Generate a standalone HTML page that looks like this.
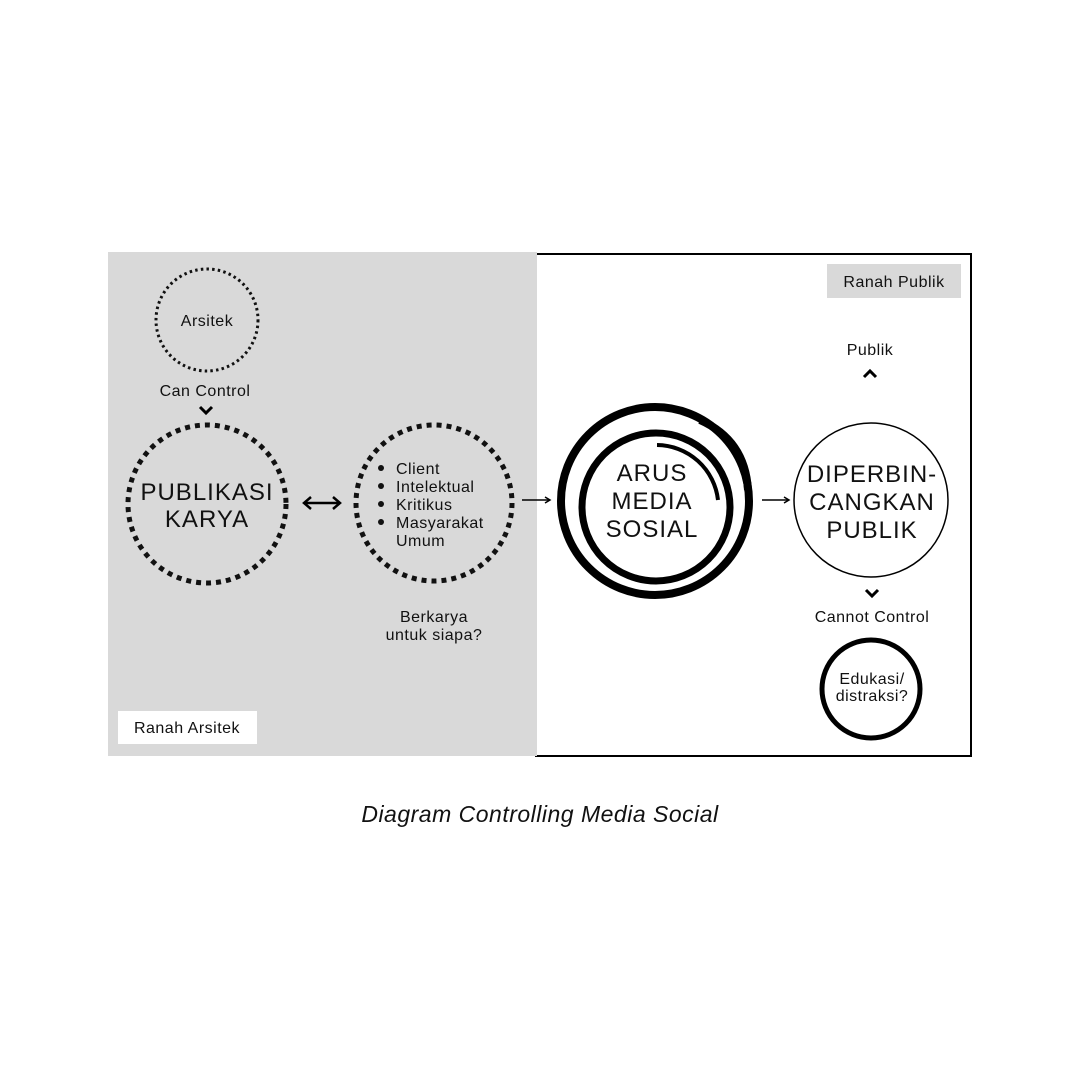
<!DOCTYPE html>
<html><head><meta charset="utf-8"><style>
html,body{margin:0;padding:0;background:#fff}
svg{display:block}
text{font-family:"Liberation Sans","DejaVu Sans",sans-serif;fill:#111;letter-spacing:0.5px}
.big{letter-spacing:1px}
</style></head><body>
<svg width="1080" height="1080" viewBox="0 0 1080 1080">
<rect x="0" y="0" width="1080" height="1080" fill="#fff"/>
<rect x="536" y="254" width="435" height="502" fill="#fff" stroke="#000" stroke-width="2"/>
<rect x="108" y="252" width="429" height="504" fill="#d9d9d9"/>
<rect x="827" y="264" width="134" height="34" fill="#d9d9d9"/>
<text x="894" y="287" font-size="16" text-anchor="middle">Ranah Publik</text>
<rect x="118" y="711" width="139" height="33" fill="#fff"/>
<text x="187" y="733" font-size="16" text-anchor="middle">Ranah Arsitek</text>

<circle cx="207" cy="320" r="51" fill="none" stroke="#111" stroke-width="3" stroke-dasharray="2.5 3.2"/>
<text x="207" y="326" font-size="16" text-anchor="middle">Arsitek</text>
<text x="205" y="396" font-size="16" text-anchor="middle">Can Control</text>
<polyline points="200,407 206,413 212,407" fill="none" stroke="#000" stroke-width="3"/>

<circle cx="207" cy="504" r="79" fill="none" stroke="#111" stroke-width="5" stroke-dasharray="5 5"/>
<text class="big" x="207" y="500" font-size="24" text-anchor="middle">PUBLIKASI</text>
<text class="big" x="207" y="527" font-size="24" text-anchor="middle">KARYA</text>

<line x1="306" y1="503" x2="338" y2="503" stroke="#000" stroke-width="2.5"/>
<polyline points="311,497 304,503 311,509" fill="none" stroke="#000" stroke-width="2.5"/>
<polyline points="333,497 340,503 333,509" fill="none" stroke="#000" stroke-width="2.5"/>

<circle cx="434" cy="503" r="78" fill="none" stroke="#111" stroke-width="5" stroke-dasharray="5 5"/>
<g font-size="16">
<circle cx="381" cy="468" r="3" fill="#111"/><text x="396" y="474">Client</text>
<circle cx="381" cy="486" r="3" fill="#111"/><text x="396" y="492">Intelektual</text>
<circle cx="381" cy="504" r="3" fill="#111"/><text x="396" y="510">Kritikus</text>
<circle cx="381" cy="522" r="3" fill="#111"/><text x="396" y="528">Masyarakat</text>
<text x="396" y="546">Umum</text>
</g>
<text x="434" y="622" font-size="16" text-anchor="middle">Berkarya</text>
<text x="434" y="640" font-size="16" text-anchor="middle">untuk siapa?</text>

<line x1="522" y1="500" x2="549" y2="500" stroke="#000" stroke-width="1.5"/>
<polyline points="545,497 550,500 545,503" fill="none" stroke="#000" stroke-width="1.5"/>

<circle cx="655" cy="501" r="94" fill="none" stroke="#000" stroke-width="8"/>
<circle cx="656" cy="507" r="74" fill="none" stroke="#000" stroke-width="7"/>
<path d="M 700,420 Q 745,440 748,490" fill="none" stroke="#000" stroke-width="8"/>
<path d="M 657,445 A 62 62 0 0 1 718,500" fill="none" stroke="#000" stroke-width="4"/>
<text class="big" x="652" y="481" font-size="24" text-anchor="middle">ARUS</text>
<text class="big" x="652" y="509" font-size="24" text-anchor="middle">MEDIA</text>
<text class="big" x="652" y="537" font-size="24" text-anchor="middle">SOSIAL</text>

<line x1="762" y1="500" x2="788" y2="500" stroke="#000" stroke-width="1.5"/>
<polyline points="784,497 789,500 784,503" fill="none" stroke="#000" stroke-width="1.5"/>

<circle cx="871" cy="500" r="77" fill="none" stroke="#000" stroke-width="1.5"/>
<text class="big" x="872" y="482" font-size="24" text-anchor="middle">DIPERBIN-</text>
<text class="big" x="872" y="510" font-size="24" text-anchor="middle">CANGKAN</text>
<text class="big" x="872" y="538" font-size="24" text-anchor="middle">PUBLIK</text>

<text x="870" y="355" font-size="16" text-anchor="middle">Publik</text>
<polyline points="864,377 870,371 876,377" fill="none" stroke="#000" stroke-width="3"/>
<polyline points="866,590 872,596 878,590" fill="none" stroke="#000" stroke-width="3"/>
<text x="872" y="622" font-size="16" text-anchor="middle">Cannot Control</text>

<circle cx="871" cy="689" r="49" fill="none" stroke="#000" stroke-width="5"/>
<text x="872" y="684" font-size="16" text-anchor="middle">Edukasi/</text>
<text x="872" y="701" font-size="16" text-anchor="middle">distraksi?</text>

<text x="540" y="822" font-size="23" font-style="italic" text-anchor="middle">Diagram Controlling Media Social</text>
</svg>
</body></html>
